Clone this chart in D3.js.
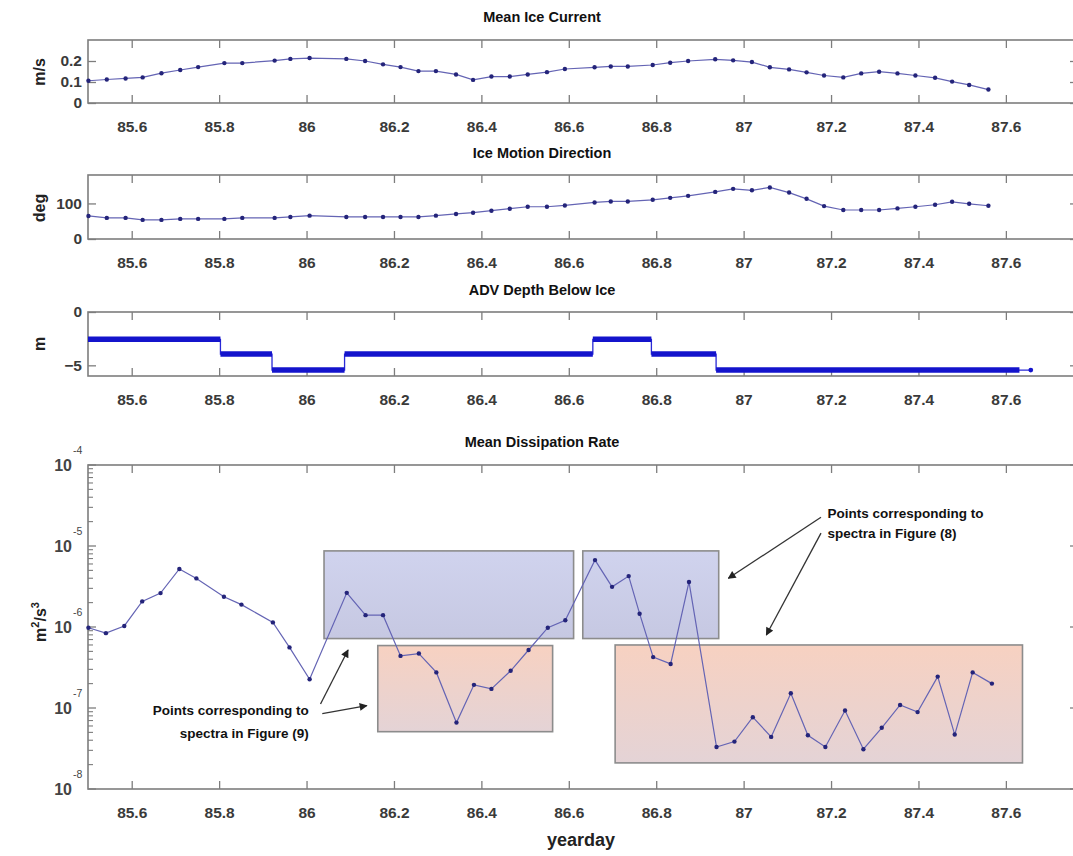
<!DOCTYPE html>
<html>
<head>
<meta charset="utf-8">
<script src="https://cdn.jsdelivr.net/npm/d3@7"></script>
<style>
  body { margin: 0; background: #fff; }
  svg { display: block; }
</style>
</head>
<body>
<svg id="fig" width="1073" height="856"></svg>
<script>
// ---- data -------------------------------------------------------------
const yeardayTicks = [85.6, 85.8, 86, 86.2, 86.4, 86.6, 86.8, 87, 87.2, 87.4, 87.6];

// hourly ice-motion samples (yearday)
const motionDay = [85.501, 85.543, 85.586, 85.625, 85.668, 85.711, 85.752, 85.812, 85.853, 85.927,
  85.963, 86.007, 86.091, 86.134, 86.175, 86.215, 86.256, 86.296, 86.342, 86.381,
  86.423, 86.465, 86.506, 86.550, 86.591, 86.659, 86.696, 86.735, 86.792, 86.832,
  86.873, 86.935, 86.976, 87.019, 87.060, 87.104, 87.144, 87.184, 87.228, 87.269,
  87.310, 87.352, 87.393, 87.438, 87.477, 87.516, 87.560];

// mean ice current speed (m/s)
const currentSpeed = [0.106, 0.112, 0.117, 0.122, 0.142, 0.157, 0.171, 0.190, 0.190, 0.202,
  0.210, 0.214, 0.210, 0.200, 0.184, 0.171, 0.152, 0.152, 0.136, 0.110,
  0.126, 0.126, 0.136, 0.147, 0.162, 0.170, 0.174, 0.174, 0.181, 0.192,
  0.200, 0.208, 0.203, 0.195, 0.170, 0.160, 0.146, 0.131, 0.122, 0.141,
  0.149, 0.141, 0.131, 0.120, 0.102, 0.086, 0.064];

// ice motion direction (deg)
const directionDeg = [64.8, 59.3, 59.3, 53.7, 53.7, 56.5, 56.5, 56.5, 59.3, 59.3,
  62, 65.7, 62, 62, 62, 62, 62, 65.7, 70.4, 74,
  79.6, 85.2, 90.7, 90.7, 94.4, 102.8, 105.6, 105.6, 110.2, 115.7,
  121.3, 132.4, 141, 137, 145, 130.6, 113, 92.6, 81.5, 81.5,
  81.5, 86.1, 90.7, 96.3, 104.6, 99, 93.5];

// ADV depth below ice: constant-depth deployments
const depthStart = [85.5, 85.803, 85.921, 86.087, 86.655, 86.789, 86.937];
const depthEnd   = [85.803, 85.921, 86.087, 86.655, 86.789, 86.937, 87.631];
const depthLevel = [-2.56, -3.94, -5.44, -3.94, -2.56, -3.94, -5.44];
const depthLastDay = 87.657;

// mean dissipation rate (m^2/s^3)
const dissDay = [85.501, 85.541, 85.583, 85.624, 85.666, 85.709, 85.748, 85.811, 85.851, 85.923,
  85.961, 86.007, 86.092, 86.135, 86.175, 86.215, 86.257, 86.297, 86.343, 86.383,
  86.423, 86.467, 86.508, 86.552, 86.592, 86.660, 86.699, 86.737, 86.762, 86.793,
  86.833, 86.875, 86.938, 86.979, 87.021, 87.063, 87.108, 87.147, 87.187, 87.232,
  87.274, 87.316, 87.358, 87.398, 87.444, 87.483, 87.524, 87.568];
const dissRate = [9.8e-7, 8.4e-7, 1.03e-6, 2.07e-6, 2.62e-6, 5.2e-6, 3.98e-6, 2.36e-6, 1.89e-6, 1.14e-6,
  5.6e-7, 2.26e-7, 2.64e-6, 1.40e-6, 1.40e-6, 4.4e-7, 4.7e-7, 2.75e-7, 6.6e-8, 1.93e-7,
  1.72e-7, 2.88e-7, 5.2e-7, 9.8e-7, 1.21e-6, 6.7e-6, 3.13e-6, 4.25e-6, 1.46e-6, 4.25e-7,
  3.5e-7, 3.6e-6, 3.3e-8, 3.85e-8, 7.7e-8, 4.4e-8, 1.52e-7, 4.6e-8, 3.3e-8, 9.3e-8,
  3.1e-8, 5.7e-8, 1.09e-7, 8.9e-8, 2.44e-7, 4.7e-8, 2.75e-7, 2.0e-7];

// highlighted groups of points: [day0, day1, rateTop, rateBottom]
const spectraBoxesFig8 = [[86.040, 86.611, 8.7e-6, 7.2e-7], [86.632, 86.943, 8.7e-6, 7.2e-7]];
const spectraBoxesFig9 = [[86.163, 86.563, 5.9e-7, 5.1e-8], [86.706, 87.638, 6.0e-7, 2.1e-8]];

// callouts: text lines and arrows [[day, rate] tail, [day, rate] head]
const noteFig9Lines = ["Points corresponding to", "spectra in Figure (9)"];
const noteFig8Lines = ["Points corresponding to", "spectra in Figure (8)"];
const noteFig9Arrows = [[[86.032, 1.12e-7], [86.095, 5.2e-7]], [[86.036, 8.5e-8], [86.138, 1.07e-7]]];
const noteFig8Arrows = [[[87.177, 2.26e-5], [86.965, 3.99e-6]], [[87.177, 1.44e-5], [87.052, 7.96e-7]]];

// ---- layout -----------------------------------------------------------
const svg = d3.select("#fig");
const FONT = "'Liberation Sans', Arial, Helvetica, sans-serif";
const AX = "#7d7d7d";
const LINE = "#6464b4";
const DOT = "#24247a";
const X0 = 88, X1 = 1078;

const x = d3.scaleLinear().domain([85.5, 87.765]).range([X0, X1]);

const defs = svg.append("defs");
function vGrad(id, c0, c1) {
  const g = defs.append("linearGradient").attr("id", id).attr("x1", 0).attr("x2", 0).attr("y1", 0).attr("y2", 1);
  g.append("stop").attr("offset", "0%").attr("stop-color", c0);
  g.append("stop").attr("offset", "100%").attr("stop-color", c1);
}
vGrad("blueFill", "#d0d3ee", "#c6c8e2");
vGrad("peachFill", "#f7d1c1", "#e4d3d6");
defs.append("marker").attr("id", "arrowHead").attr("viewBox", "0 0 10 10")
  .attr("refX", 9).attr("refY", 5).attr("markerWidth", 9).attr("markerHeight", 8)
  .attr("markerUnits", "userSpaceOnUse").attr("orient", "auto")
  .append("path").attr("d", "M0,0 L10,5 L0,10 z").attr("fill", "#222");

function styleAxis(sel, labelSize) {
  sel.select(".domain").remove();
  sel.selectAll(".tick line").attr("stroke", AX).attr("stroke-width", 1.3);
  sel.selectAll(".tick text").attr("font-family", FONT).attr("font-size", labelSize || 15.5)
    .attr("font-weight", "bold").attr("fill", "#3a3a3a");
}

function addTitle(text, yBase) {
  svg.append("text").attr("x", 542).attr("y", yBase).attr("text-anchor", "middle")
    .attr("font-family", FONT).attr("font-weight", "bold").attr("font-size", 14.5)
    .attr("fill", "#111").text(text);
}

function addYLabel(text, cx, cy) {
  svg.append("text").attr("transform", `translate(${cx},${cy}) rotate(-90)`)
    .attr("text-anchor", "middle").attr("font-family", FONT).attr("font-weight", "bold")
    .attr("font-size", 16).attr("fill", "#222").text(text);
}

// frame with x ticks on top and bottom, y ticks on left and right
function frame(top, bottom, y, yTicks, yFmt) {
  const g = svg.append("g");
  g.append("g").attr("transform", `translate(0,${bottom})`)
    .call(d3.axisBottom(x).tickValues(yeardayTicks).tickSizeInner(-8).tickSizeOuter(0)
      .tickPadding(18).tickFormat(d3.format("")))
    .call(s => styleAxis(s));
  g.append("g").attr("transform", `translate(0,${top})`)
    .call(d3.axisTop(x).tickValues(yeardayTicks).tickSizeInner(-8).tickSizeOuter(0).tickFormat(""))
    .call(s => styleAxis(s));
  if (yTicks) {
    g.append("g").attr("transform", `translate(${X0},0)`)
      .call(d3.axisLeft(y).tickValues(yTicks).tickSizeInner(-8).tickSizeOuter(0).tickPadding(6).tickFormat(yFmt))
      .call(s => styleAxis(s));
    g.append("g").attr("transform", `translate(${X1},0)`)
      .call(d3.axisRight(y).tickValues(yTicks).tickSizeInner(-8).tickSizeOuter(0).tickFormat(""))
      .call(s => styleAxis(s));
  }
  g.append("rect").attr("x", X0).attr("y", top).attr("width", X1 - X0).attr("height", bottom - top)
    .attr("fill", "none").attr("stroke", AX).attr("stroke-width", 1.6);
  return g;
}

function lineWithDots(days, vals, y) {
  const pts = days.map((d, i) => [x(d), y(vals[i])]);
  svg.append("path").attr("d", d3.line()(pts)).attr("fill", "none")
    .attr("stroke", LINE).attr("stroke-width", 1.2);
  svg.append("g").selectAll("circle").data(pts).join("circle")
    .attr("cx", p => p[0]).attr("cy", p => p[1]).attr("r", 2.2).attr("fill", DOT);
}

// ---- panel 1: mean ice current ---------------------------------------
const y1 = d3.scaleLinear().domain([0, 0.3]).range([103, 40]);
addTitle("Mean Ice Current", 22);
frame(40, 103, y1, [0, 0.1, 0.2], d3.format(""));
addYLabel("m/s", 45, 72);
lineWithDots(motionDay, currentSpeed, y1);

// ---- panel 2: ice motion direction -----------------------------------
const y2 = d3.scaleLinear().domain([0, 180]).range([239, 175]);
addTitle("Ice Motion Direction", 158);
frame(175, 239, y2, [0, 100], d3.format(""));
addYLabel("deg", 45, 208);
lineWithDots(motionDay, directionDeg, y2);

// ---- panel 3: ADV depth below ice ------------------------------------
const y3 = d3.scaleLinear().domain([-6, 0]).range([376, 312]);
addTitle("ADV Depth Below Ice", 295);
frame(312, 376, y3, [-5, 0], d3.format(""));
addYLabel("m", 45, 344);
{
  const stepPts = [];
  depthStart.forEach((s, i) => { stepPts.push([x(s), y3(depthLevel[i])]); stepPts.push([x(depthEnd[i]), y3(depthLevel[i])]); });
  stepPts.push([x(depthLastDay), y3(depthLevel[depthLevel.length - 1])]);
  svg.append("path").attr("d", d3.line()(stepPts)).attr("fill", "none")
    .attr("stroke", "#2a2ad6").attr("stroke-width", 1.3);
  svg.append("g").selectAll("line").data(depthStart).join("line")
    .attr("x1", d => x(d)).attr("x2", (d, i) => x(depthEnd[i]))
    .attr("y1", (d, i) => y3(depthLevel[i])).attr("y2", (d, i) => y3(depthLevel[i]))
    .attr("stroke", "#1414cc").attr("stroke-width", 5.5);
  svg.append("circle").attr("cx", x(depthLastDay)).attr("cy", y3(depthLevel[depthLevel.length - 1]))
    .attr("r", 2.4).attr("fill", "#1414cc");
}

// ---- panel 4: mean dissipation rate ----------------------------------
const top4 = 465, bot4 = 789;
const y4 = d3.scaleLog().domain([1e-8, 1e-4]).range([bot4, top4]);
addTitle("Mean Dissipation Rate", 447);
{
  frame(top4, bot4, null);
  const decades = [-8, -7, -6, -5, -4];
  const minors = [];
  decades.slice(0, -1).forEach(d => { for (let k = 2; k <= 9; k++) minors.push(k * Math.pow(10, d)); });
  const ticks = svg.append("g");
  [[X0, 1], [X1, -1]].forEach(([xe, dir]) => {
    ticks.selectAll(null).data(decades).join("line")
      .attr("x1", xe).attr("x2", xe + dir * 8)
      .attr("y1", d => y4(Math.pow(10, d))).attr("y2", d => y4(Math.pow(10, d)))
      .attr("stroke", AX).attr("stroke-width", 1.3);
    ticks.selectAll(null).data(minors).join("line")
      .attr("x1", xe).attr("x2", xe + dir * 5)
      .attr("y1", d => y4(d)).attr("y2", d => y4(d))
      .attr("stroke", AX).attr("stroke-width", 1.1);
  });
  const lab = svg.append("g").attr("font-family", FONT).attr("fill", "#444").attr("font-weight", "bold");
  decades.forEach(d => {
    const yy = y4(Math.pow(10, d));
    lab.append("text").attr("x", 72).attr("y", yy + 6).attr("text-anchor", "end")
      .attr("font-size", 16).text("10");
    lab.append("text").attr("x", 73).attr("y", yy - 11).attr("font-size", 10.5)
      .attr("font-weight", "normal").text(String(d));
  });

  // axis label m^2/s^3
  const yl = svg.append("text").attr("transform", `translate(46,622) rotate(-90)`)
    .attr("text-anchor", "middle").attr("font-family", FONT).attr("font-weight", "bold")
    .attr("font-size", 16).attr("fill", "#222");
  yl.append("tspan").text("m");
  yl.append("tspan").attr("dy", -7).attr("font-size", 11).text("2");
  yl.append("tspan").attr("dy", 7).text("/s");
  yl.append("tspan").attr("dy", -7).attr("font-size", 11).text("3");

  // highlight boxes
  const boxG = svg.append("g");
  boxG.selectAll(".b8").data(spectraBoxesFig8).join("rect")
    .attr("x", b => x(b[0])).attr("width", b => x(b[1]) - x(b[0]))
    .attr("y", b => y4(b[2])).attr("height", b => y4(b[3]) - y4(b[2]))
    .attr("fill", "url(#blueFill)").attr("stroke", "#8c8c8c").attr("stroke-width", 1.6);
  boxG.selectAll(".b9").data(spectraBoxesFig9).join("rect")
    .attr("x", b => x(b[0])).attr("width", b => x(b[1]) - x(b[0]))
    .attr("y", b => y4(b[2])).attr("height", b => y4(b[3]) - y4(b[2]))
    .attr("fill", "url(#peachFill)").attr("stroke", "#8c8c8c").attr("stroke-width", 1.6);

  lineWithDots(dissDay, dissRate, y4);

  // callouts
  const arrows = noteFig9Arrows.concat(noteFig8Arrows);
  svg.append("g").selectAll("line").data(arrows).join("line")
    .attr("x1", a => x(a[0][0])).attr("y1", a => y4(a[0][1]))
    .attr("x2", a => x(a[1][0])).attr("y2", a => y4(a[1][1]))
    .attr("stroke", "#333").attr("stroke-width", 1.3).attr("marker-end", "url(#arrowHead)");

  const note = svg.append("g").attr("font-family", FONT).attr("font-weight", "bold")
    .attr("font-size", 13.5).attr("fill", "#111");
  noteFig9Lines.forEach((t, i) => note.append("text").attr("x", x(86.005))
    .attr("y", y4(i ? 4.27e-8 : 8.2e-8)).attr("text-anchor", "end").text(t));
  noteFig8Lines.forEach((t, i) => note.append("text").attr("x", x(87.192))
    .attr("y", y4(i ? 1.26e-5 : 2.22e-5)).text(t));

  svg.append("text").attr("x", 581).attr("y", 846).attr("text-anchor", "middle")
    .attr("font-family", FONT).attr("font-weight", "bold").attr("font-size", 18)
    .attr("fill", "#222").text("yearday");
}
</script>
</body>
</html>
